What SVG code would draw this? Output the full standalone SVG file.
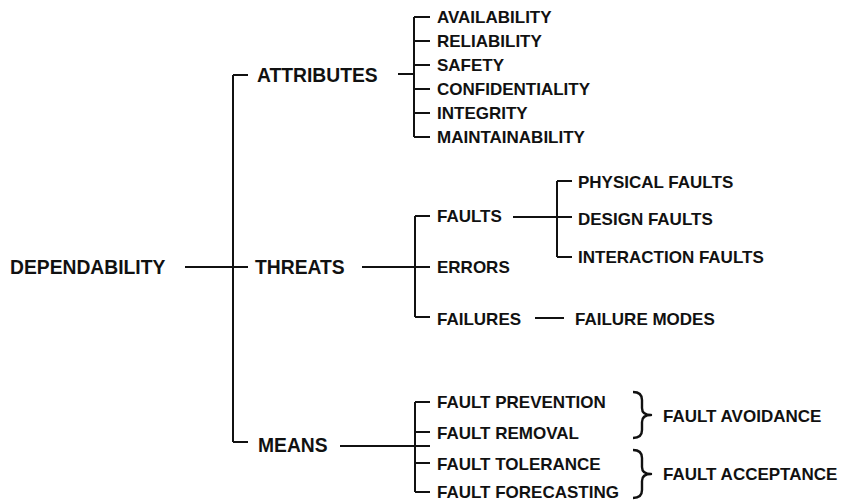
<svg xmlns="http://www.w3.org/2000/svg" width="844" height="501" viewBox="0 0 844 501">
<style>
text{font-family:"Liberation Sans",Arial,Helvetica,sans-serif;font-weight:bold;fill:#111}
.m{font-size:19.3px}
.l{font-size:17px}
.c{stroke:#111;stroke-width:2;fill:none}
.b{stroke:#111;stroke-width:2.4;fill:none;stroke-linejoin:round}
</style>
<rect width="844" height="501" fill="#fff"/>
<g id="connectors">
<path class="c" d="M185 267H248M233 75V442M233 75H248M233 442H248"/>
<path class="c" d="M398 74H414M414 17V137M414 17H430M414 41H430M414 65H430M414 89H430M414 113H430M414 137H430"/>
<path class="c" d="M362 267H430M415 216V317M415 216H430M415 317H430"/>
<path class="c" d="M513 217H572M557 181V257M557 181H572M557 257H572"/>
<path class="c" d="M535 318H564"/>
<path class="c" d="M340 446H430M415 402V492M415 402H430M415 432H430M415 463H430M415 492H430"/>
<path class="b" d="M633 392Q642 392 642 400L642 408Q642 415 651 415Q642 415 642 422L642 430Q642 438 633 438"/>
<path class="b" d="M633 450Q642 450 642 458L642 467Q642 474 651 474Q642 474 642 481L642 490Q642 498 633 498"/>
</g>
<g id="dependability"><text class="m" x="10" y="274">DEPENDABILITY</text></g>
<g id="attributes"><text class="m" x="257" y="82">ATTRIBUTES</text></g>
<g id="threats"><text class="m" x="255" y="274">THREATS</text></g>
<g id="means"><text class="m" x="258" y="452">MEANS</text></g>
<g id="availability"><text class="l" x="437" y="23">AVAILABILITY</text></g>
<g id="reliability"><text class="l" x="437" y="47">RELIABILITY</text></g>
<g id="safety"><text class="l" x="437" y="71">SAFETY</text></g>
<g id="confidentiality"><text class="l" x="437" y="95">CONFIDENTIALITY</text></g>
<g id="integrity"><text class="l" x="437" y="119">INTEGRITY</text></g>
<g id="maintainability"><text class="l" x="437" y="143">MAINTAINABILITY</text></g>
<g id="faults"><text class="l" x="437" y="222">FAULTS</text></g>
<g id="errors"><text class="l" x="437" y="273">ERRORS</text></g>
<g id="failures"><text class="l" x="437" y="325">FAILURES</text></g>
<g id="physical-faults"><text class="l" x="578" y="188">PHYSICAL FAULTS</text></g>
<g id="design-faults"><text class="l" x="578" y="225">DESIGN FAULTS</text></g>
<g id="interaction-faults"><text class="l" x="578" y="263">INTERACTION FAULTS</text></g>
<g id="failure-modes"><text class="l" x="575" y="325">FAILURE MODES</text></g>
<g id="fault-prevention"><text class="l" x="437" y="408">FAULT PREVENTION</text></g>
<g id="fault-removal"><text class="l" x="437" y="439">FAULT REMOVAL</text></g>
<g id="fault-tolerance"><text class="l" x="437" y="470">FAULT TOLERANCE</text></g>
<g id="fault-forecasting"><text class="l" x="437" y="498">FAULT FORECASTING</text></g>
<g id="fault-avoidance"><text class="l" x="663" y="422">FAULT AVOIDANCE</text></g>
<g id="fault-acceptance"><text class="l" x="663" y="480">FAULT ACCEPTANCE</text></g>
</svg>
